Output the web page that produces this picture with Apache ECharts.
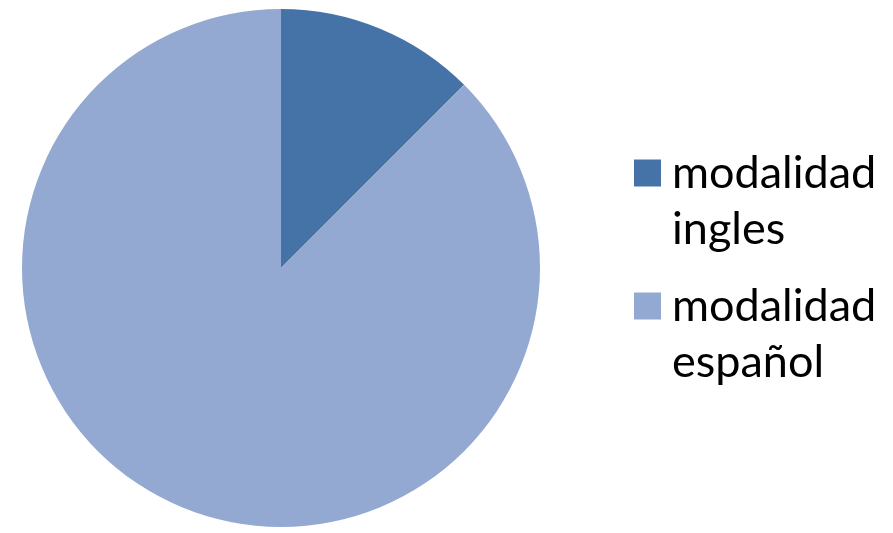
<!DOCTYPE html>
<html>
<head>
<meta charset="utf-8">
<script src="https://cdn.jsdelivr.net/npm/echarts@6/dist/echarts.min.js"></script>
<style>html,body{margin:0;padding:0;background:#fff;}#c{width:893px;height:533px;}</style>
</head>
<body>
<div id="c"></div>
<script>
const categories = ['modalidad ingles', 'modalidad español'];
const values = [1, 7];
const colors = ['#4573A7', '#94A9D1'];
const legendLines = { 'modalidad ingles': 'modalidad\ningles', 'modalidad español': 'modalidad\nespañol' };

const chart = echarts.init(document.getElementById('c'), null, { renderer: 'canvas' });
const legendBase = {
  orient: 'vertical',
  left: 629,
  itemWidth: 27,
  itemHeight: 27,
  icon: 'rect',
  selectedMode: false,
  formatter: n => '\n' + legendLines[n],
  textStyle: { fontFamily: 'Lato', fontSize: 45, color: '#000', lineHeight: 56, padding: [0, 0, 0, 6] }
};
chart.setOption({
  animation: false,
  color: colors,
  legend: [
    Object.assign({}, legendBase, { top: 84, data: [categories[0]] }),
    Object.assign({}, legendBase, { top: 217, data: [categories[1]] })
  ],
  series: [{
    type: 'pie',
    center: [281, 268],
    radius: 259,
    startAngle: 90,
    clockwise: true,
    label: { show: false },
    labelLine: { show: false },
    emphasis: { disabled: true },
    itemStyle: { borderWidth: 0 },
    data: categories.map((c, i) => ({ name: c, value: values[i] }))
  }]
});
</script>
</body>
</html>
